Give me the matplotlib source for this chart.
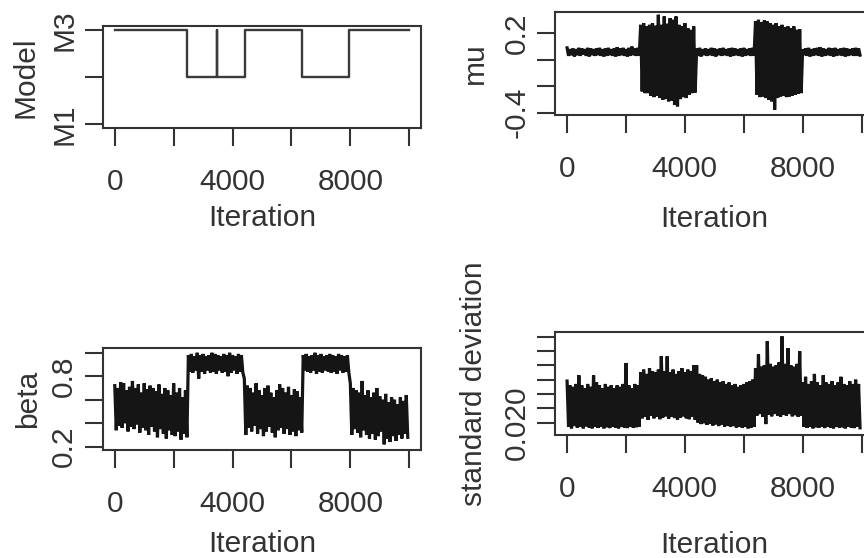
import numpy as np
import matplotlib
matplotlib.use("Agg")
import matplotlib.pyplot as plt
from matplotlib.transforms import offset_copy

plt.rcParams['font.family'] = ['Liberation Sans', 'DejaVu Sans']
FS = 21.5
plt.rcParams['font.size'] = FS
TXT = '#333333'
LINE = '#333333'

# ---------------- data ----------------
n_iter = 10000
block = 100
x_ticks = [0, 2000, 4000, 6000, 8000, 10000]
x_ticklabels = ['0', '', '4000', '', '8000', '']

# model indicator: change points and value after each change
model_change = [0, 2460, 3460, 3475, 4420, 6370, 7970]
model_value = [3, 2, 3, 2, 3, 2, 3]
model_ticks = [1, 2, 3]
model_ticklabels = ['M1', '', 'M3']

# mu: per-100-iteration block high / low envelope
mu_hi = [0.09, 0.08, 0.085, 0.08, 0.09, 0.085, 0.08, 0.09, 0.085, 0.08,
         0.085, 0.09, 0.08, 0.085, 0.09, 0.08, 0.085, 0.095, 0.085, 0.09,
         0.08, 0.09, 0.10, 0.085, 0.09,
         0.264, 0.277, 0.252, 0.264, 0.277, 0.257, 0.340, 0.264, 0.327, 0.272,
         0.314, 0.302, 0.327, 0.264, 0.252, 0.277, 0.239, 0.226, 0.252,
         0.085, 0.09, 0.08, 0.085, 0.08, 0.09, 0.085, 0.08, 0.085, 0.09,
         0.08, 0.085, 0.09, 0.085, 0.08, 0.085, 0.09, 0.08, 0.085, 0.09,
         0.289, 0.302, 0.282, 0.297, 0.289, 0.277, 0.264, 0.277, 0.252, 0.264,
         0.247, 0.252, 0.239, 0.252, 0.226, 0.231,
         0.08, 0.085, 0.09, 0.08, 0.085, 0.09, 0.095, 0.085, 0.08, 0.09,
         0.085, 0.09, 0.08, 0.085, 0.09, 0.085, 0.08, 0.085, 0.09, 0.085]
mu_lo = [0.03, 0.035, 0.025, 0.035, 0.03, 0.04, 0.03, 0.025, 0.035, 0.03,
         0.035, 0.03, 0.025, 0.03, 0.035, 0.03, 0.025, 0.03, 0.035, 0.03,
         0.025, 0.03, 0.035, 0.03, 0.03,
         -0.239, -0.252, -0.252, -0.272, -0.282, -0.272, -0.289, -0.302, -0.297, -0.314,
         -0.307, -0.340, -0.352, -0.297, -0.282, -0.289, -0.264, -0.252, -0.247,
         0.03, 0.025, 0.035, 0.03, 0.035, 0.03, 0.025, 0.035, 0.03, 0.035,
         0.03, 0.025, 0.03, 0.035, 0.03, 0.025, 0.03, 0.035, 0.03, 0.03,
         -0.264, -0.282, -0.277, -0.289, -0.302, -0.314, -0.377, -0.289, -0.277, -0.272,
         -0.282, -0.277, -0.272, -0.264, -0.257, -0.252,
         0.035, 0.03, 0.025, 0.03, 0.035, 0.03, 0.025, 0.03, 0.035, 0.03,
         0.025, 0.03, 0.035, 0.03, 0.025, 0.03, 0.035, 0.03, 0.03, 0.035]
mu_ticks = [-0.4, -0.2, 0.0, 0.2]
mu_ticklabels = ['-0.4', '', '', '0.2']

beta_hi = [0.72, 0.70, 0.75, 0.74, 0.68, 0.71, 0.76, 0.70, 0.73, 0.66,
           0.74, 0.69, 0.72, 0.70, 0.67, 0.73, 0.65, 0.70, 0.68, 0.64,
           0.74, 0.66, 0.70, 0.62, 0.68,
           0.98, 0.99, 0.97, 1.0, 0.98, 0.99, 0.97, 0.98, 1.0, 0.99,
           0.98, 0.97, 0.99, 0.98, 1.0, 0.98, 0.97, 0.99, 0.98,
           0.78, 0.72, 0.70, 0.66, 0.74, 0.68, 0.64, 0.70, 0.72, 0.66,
           0.62, 0.68, 0.73, 0.70, 0.66, 0.71, 0.64, 0.69, 0.67, 0.62,
           0.98, 0.99, 0.97, 0.98, 1.0, 0.98, 0.99, 0.97, 0.98, 0.99,
           0.98, 0.97, 0.99, 0.98, 0.97, 0.98,
           0.74, 0.70, 0.68, 0.66, 0.76, 0.64, 0.68, 0.62, 0.66, 0.70,
           0.63, 0.60, 0.65, 0.58, 0.62, 0.60, 0.56, 0.62, 0.59, 0.64]
beta_lo = [0.34, 0.38, 0.36, 0.40, 0.33, 0.37, 0.35, 0.39, 0.32, 0.36,
           0.34, 0.30, 0.37, 0.33, 0.28, 0.35, 0.31, 0.27, 0.34, 0.30,
           0.29, 0.33, 0.26, 0.31, 0.28,
           0.84, 0.83, 0.85, 0.78, 0.84, 0.82, 0.85, 0.83, 0.84, 0.82,
           0.85, 0.83, 0.84, 0.80, 0.83, 0.85, 0.82, 0.84, 0.83,
           0.30, 0.36, 0.33, 0.38, 0.31, 0.35, 0.29, 0.33, 0.37, 0.32,
           0.28, 0.34, 0.36, 0.31, 0.35, 0.30, 0.33, 0.29, 0.34, 0.32,
           0.85, 0.84, 0.83, 0.85, 0.82, 0.84, 0.83, 0.85, 0.84, 0.83,
           0.84, 0.82, 0.85, 0.83, 0.84, 0.83,
           0.30, 0.35, 0.32, 0.28, 0.34, 0.30, 0.27, 0.31, 0.26, 0.29,
           0.33, 0.22, 0.27, 0.24, 0.29, 0.25, 0.30, 0.27, 0.31, 0.28]
beta_ticks = [0.2, 0.4, 0.6, 0.8, 1.0]
beta_ticklabels = ['0.2', '', '', '0.8', '']

sd_hi = [0.0345, 0.0330, 0.0325, 0.0335, 0.0365, 0.0330, 0.0320, 0.0335, 0.0325, 0.0365,
         0.0340, 0.0330, 0.0320, 0.0335, 0.0325, 0.0330, 0.0320, 0.0330, 0.0325, 0.0335,
         0.0408, 0.0330, 0.0320, 0.0335, 0.0330,
         0.0375, 0.0385, 0.0370, 0.0390, 0.0380, 0.0375, 0.0385, 0.0432, 0.0380, 0.0431,
         0.0375, 0.0385, 0.0370, 0.0380, 0.0390, 0.0375, 0.0385, 0.0380, 0.0400,
         0.0400, 0.0370, 0.0365, 0.0360, 0.0350, 0.0355, 0.0345, 0.0350, 0.0340, 0.0345,
         0.0335, 0.0340, 0.0330, 0.0335, 0.0325, 0.0330, 0.0335, 0.0340, 0.0345, 0.0350,
         0.0390, 0.0438, 0.0395, 0.0400, 0.0484, 0.0405, 0.0395, 0.0400, 0.0410, 0.0501,
         0.0405, 0.0460, 0.0400, 0.0395, 0.0405, 0.0449,
         0.0340, 0.0360, 0.0335, 0.0345, 0.0370, 0.0340, 0.0330, 0.0365, 0.0340, 0.0335,
         0.0345, 0.0330, 0.0340, 0.0360, 0.0335, 0.0330, 0.0345, 0.0335, 0.0350, 0.0335]
sd_lo = [0.0185, 0.0180, 0.0188, 0.0182, 0.0185, 0.0180, 0.0187, 0.0183, 0.0180, 0.0186,
         0.0182, 0.0185, 0.0180, 0.0184, 0.0181, 0.0186, 0.0182, 0.0180, 0.0185, 0.0183,
         0.0181, 0.0185, 0.0182, 0.0184, 0.0186,
         0.0215, 0.0220, 0.0210, 0.0225, 0.0215, 0.0220, 0.0212, 0.0218, 0.0222, 0.0214,
         0.0220, 0.0216, 0.0210, 0.0218, 0.0222, 0.0215, 0.0212, 0.0220, 0.0210,
         0.0200, 0.0195, 0.0198, 0.0192, 0.0196, 0.0190, 0.0194, 0.0188, 0.0192, 0.0186,
         0.0190, 0.0185, 0.0188, 0.0183, 0.0186, 0.0182, 0.0185, 0.0180, 0.0183, 0.0185,
         0.0225, 0.0230, 0.0220, 0.0195, 0.0228, 0.0222, 0.0230, 0.0225, 0.0220, 0.0228,
         0.0224, 0.0230, 0.0222, 0.0226, 0.0220, 0.0225,
         0.0185, 0.0182, 0.0186, 0.0180, 0.0184, 0.0182, 0.0185, 0.0181, 0.0186, 0.0183,
         0.0180, 0.0185, 0.0182, 0.0184, 0.0180, 0.0186, 0.0183, 0.0181, 0.0185, 0.0182]
sd_ticks = [0.020, 0.025, 0.030, 0.035, 0.040, 0.045, 0.050]
sd_ticklabels = ['0.020', '', '', '', '', '', '']

# ---------------- figure ----------------
W, H = 864, 558
fig = plt.figure(figsize=(W / 100, H / 100), dpi=100)


def px_axes(left, top, right, bottom):
    return fig.add_axes([left / W, 1 - bottom / H, (right - left) / W, (bottom - top) / H])


def style(ax, yticks, yticklabels, ylabel, ylim, xlab_off, ylab_off):
    ax.set_xlim(-400, 10400)
    ax.set_ylim(*ylim)
    for s in ax.spines.values():
        s.set_linewidth(1.5)
        s.set_color(LINE)
    ax.tick_params(axis='both', direction='out', length=12.8, width=1.5,
                   color=LINE, labelcolor=TXT, labelsize=FS)
    ax.tick_params(axis='x', pad=32)
    ax.tick_params(axis='y', pad=9.4)
    ax.set_xticks(x_ticks, x_ticklabels, va='baseline')
    ax.set_yticks(yticks, yticklabels, rotation=90, rotation_mode='anchor',
                  ha='center', va='baseline')
    ax.set_xlabel('Iteration', color=TXT, fontsize=FS)
    ax.xaxis.label.set_va('baseline')
    ax.xaxis.set_label_coords(0.5, 0, transform=offset_copy(ax.transAxes, fig=fig, y=-xlab_off, units='dots'))
    ax.set_ylabel(ylabel, color=TXT, fontsize=FS)
    ax.yaxis.label.set_va('baseline')
    ax.yaxis.set_label_coords(0, 0.5, transform=offset_copy(ax.transAxes, fig=fig, x=-ylab_off, units='dots'))


def trace(ax, hi, lo):
    starts = np.arange(len(hi)) * block
    xs = np.column_stack([starts, starts + block / 2]).ravel()
    ys = np.column_stack([hi, lo]).ravel()
    ax.plot(xs, ys, color='#151515', lw=2.3, solid_joinstyle='miter')


# Model
ax1 = px_axes(103, 26, 421, 128)
mx = list(model_change) + [n_iter]
my = list(model_value) + [model_value[-1]]
ax1.step(mx, my, where='post', color='#3a3a3a', lw=1.7)
style(ax1, model_ticks, model_ticklabels, 'Model', (0.92, 3.08), 98, 70)

# mu
ax2 = px_axes(555.3, 11.7, 873.3, 115)
trace(ax2, mu_hi, mu_lo)
style(ax2, mu_ticks, mu_ticklabels, 'mu', (-0.417, 0.363), 111.7, 72.6)

# beta
ax3 = px_axes(103, 347.7, 421, 450)
trace(ax3, beta_hi, beta_lo)
style(ax3, beta_ticks, beta_ticklabels, 'beta', (0.172, 1.043), 101.7, 67)

# standard deviation
ax4 = px_axes(555.3, 332.3, 873.3, 435)
trace(ax4, sd_hi, sd_lo)
style(ax4, sd_ticks, sd_ticklabels, 'standard deviation', (0.0157, 0.0515), 118.3, 73.6)

fig.savefig('out.png', dpi=100)
